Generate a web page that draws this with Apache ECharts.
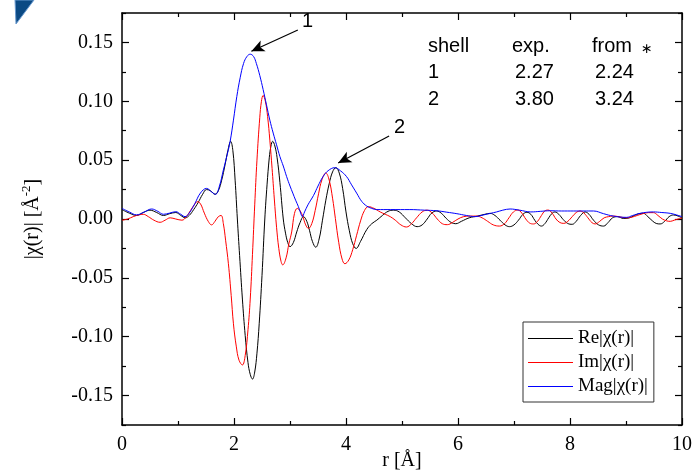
<!DOCTYPE html>
<html>
<head>
<meta charset="utf-8">
<script src="https://cdn.jsdelivr.net/npm/echarts@6/dist/echarts.min.js"></script>
<style>
  html, body { margin: 0; padding: 0; background: #fff; }
  #chart { width: 692px; height: 472px; }
</style>
</head>
<body>
<div id="chart"></div>
<script>
// Re|chi(r)|  (black)
const reR = [0.00, 0.13, 0.26, 0.38, 0.50, 0.62, 0.74, 0.85, 0.96, 1.05, 1.13, 1.20, 1.28, 1.36, 1.44, 1.51, 1.58, 1.66, 1.72, 1.78, 1.84, 1.89, 1.94, 1.98, 2.02, 2.06, 2.10, 2.15, 2.20, 2.25, 2.29, 2.33, 2.37, 2.41, 2.45, 2.50, 2.55, 2.59, 2.63, 2.66, 2.69, 2.73, 2.77, 2.82, 2.88, 2.92, 2.96, 3.00, 3.06, 3.12, 3.18, 3.24, 3.30, 3.35, 3.40, 3.46, 3.52, 3.58, 3.64, 3.70, 3.76, 3.82, 3.88, 3.94, 4.00, 4.06, 4.12, 4.18, 4.26, 4.37, 4.46, 4.55, 4.65, 4.75, 4.85, 4.95, 5.06, 5.17, 5.27, 5.36, 5.45, 5.53, 5.62, 5.70, 5.79, 5.88, 5.96, 6.06, 6.20, 6.35, 6.48, 6.57, 6.66, 6.75, 6.84, 6.92, 7.00, 7.08, 7.16, 7.23, 7.30, 7.37, 7.43, 7.49, 7.55, 7.62, 7.68, 7.73, 7.80, 7.88, 7.96, 8.04, 8.11, 8.19, 8.27, 8.34, 8.42, 8.51, 8.60, 8.68, 8.76, 8.85, 8.95, 9.05, 9.15, 9.23, 9.31, 9.39, 9.47, 9.54, 9.61, 9.69, 9.77, 9.85, 9.93, 10.0];
const reV = [0.008, 0.005, 0.003, 0.0055, 0.0075, 0.0055, 0.003, 0.0045, 0.0055, 0.003, 0.001, 0.003, 0.008, 0.014, 0.021, 0.025, 0.024, 0.021, 0.024, 0.033, 0.046, 0.058, 0.066, 0.058, 0.033, 0.000, -0.031, -0.068, -0.099, -0.122, -0.132, -0.136, -0.130, -0.114, -0.089, -0.048, 0.000, 0.029, 0.052, 0.062, 0.066, 0.062, 0.052, 0.031, 0.000, -0.012, -0.020, -0.0235, -0.020, -0.011, -0.003, 0.002, -0.002, -0.010, -0.019, -0.024, -0.017, -0.001, 0.016, 0.030, 0.040, 0.0436, 0.039, 0.026, 0.006, -0.010, -0.021, -0.025, -0.019, -0.009, -0.004, -0.001, 0.003, 0.0065, 0.0075, 0.006, 0.001, -0.004, -0.0065, -0.005, 0.000, 0.005, 0.0068, 0.005, 0.0005, -0.003, -0.004, -0.002, 0.001, 0.0025, 0.004, 0.0048, 0.003, -0.001, -0.005, -0.0065, -0.005, -0.001, 0.004, 0.0057, 0.004, -0.001, -0.0045, -0.006, -0.004, 0.001, 0.0048, 0.006, 0.004, -0.0005, -0.0038, -0.0045, -0.002, 0.003, 0.006, 0.004, -0.001, -0.005, -0.006, -0.003, 0.001, 0.002, 0.0005, 0.0008, 0.003, 0.0045, 0.0048, 0.002, -0.0015, -0.0038, -0.0042, -0.002, 0.002, 0.0034, 0.0025, 0.0008];

// Im|chi(r)|  (red)
const imR = [0.00, 0.10, 0.20, 0.30, 0.38, 0.47, 0.57, 0.68, 0.77, 0.86, 0.96, 1.07, 1.15, 1.22, 1.29, 1.345, 1.40, 1.47, 1.54, 1.60, 1.66, 1.72, 1.77, 1.81, 1.85, 1.90, 1.95, 1.99, 2.04, 2.09, 2.15, 2.20, 2.25, 2.29, 2.33, 2.37, 2.41, 2.46, 2.49, 2.52, 2.56, 2.60, 2.64, 2.68, 2.72, 2.76, 2.80, 2.84, 2.87, 2.93, 2.98, 3.03, 3.08, 3.13, 3.18, 3.23, 3.28, 3.33, 3.39, 3.45, 3.51, 3.57, 3.64, 3.70, 3.76, 3.81, 3.87, 3.93, 3.98, 4.05, 4.12, 4.19, 4.26, 4.33, 4.40, 4.50, 4.61, 4.70, 4.79, 4.88, 4.98, 5.08, 5.17, 5.26, 5.36, 5.45, 5.54, 5.63, 5.72, 5.81, 5.90, 6.00, 6.10, 6.22, 6.33, 6.43, 6.53, 6.63, 6.74, 6.83, 6.91, 6.99, 7.07, 7.14, 7.21, 7.28, 7.35, 7.42, 7.49, 7.55, 7.61, 7.68, 7.75, 7.82, 7.89, 7.96, 8.04, 8.11, 8.18, 8.25, 8.32, 8.39, 8.45, 8.53, 8.61, 8.69, 8.77, 8.87, 9.00, 9.10, 9.20, 9.30, 9.40, 9.49, 9.57, 9.65, 9.72, 9.79, 9.86, 9.93, 10.0];
const imV = [-0.001, 0.000, 0.002, 0.0035, 0.004, 0.002, -0.001, -0.0028, -0.001, 0.001, 0.000, -0.001, 0.002, 0.007, 0.012, 0.0147, 0.013, 0.005, -0.002, -0.005, -0.002, 0.002, 0.003, -0.004, -0.018, -0.038, -0.065, -0.089, -0.108, -0.120, -0.124, -0.116, -0.094, -0.068, -0.030, 0.012, 0.050, 0.086, 0.100, 0.105, 0.100, 0.087, 0.067, 0.043, 0.017, -0.007, -0.025, -0.036, -0.039, -0.033, -0.021, -0.011, 0.0047, 0.009, 0.007, 0.002, -0.005, -0.008, -0.0038, 0.0073, 0.0214, 0.0333, 0.039, 0.033, 0.0177, 0.0005, -0.0198, -0.034, -0.038, -0.0348, -0.026, -0.0138, -0.0016, 0.0072, 0.0105, 0.009, 0.006, 0.004, 0.002, -0.001, -0.005, -0.0068, -0.004, 0.001, 0.006, 0.0075, 0.005, 0.000, -0.004, -0.0048, -0.003, 0.000, 0.002, 0.0025, 0.0025, 0.001, -0.002, -0.005, -0.006, -0.004, 0.001, 0.006, 0.0076, 0.005, 0.000, -0.0035, -0.0042, -0.002, 0.003, 0.0068, 0.0076, 0.005, 0.000, -0.003, -0.0037, -0.002, 0.002, 0.0055, 0.0068, 0.005, 0.001, -0.003, -0.0042, -0.002, 0.001, 0.002, 0.0025, 0.002, 0.001, 0.0015, 0.003, 0.0045, 0.0054, 0.0054, 0.003, 0.000, -0.0015, -0.002, -0.001, 0.000, 0.0008];

// Mag|chi(r)|  (blue)
const magR = [0.00, 0.13, 0.26, 0.40, 0.53, 0.64, 0.74, 0.85, 0.96, 1.05, 1.125, 1.20, 1.30, 1.40, 1.51, 1.60, 1.67, 1.74, 1.81, 1.87, 1.93, 1.99, 2.05, 2.11, 2.17, 2.23, 2.29, 2.35, 2.40, 2.46, 2.52, 2.58, 2.64, 2.70, 2.76, 2.82, 2.88, 2.94, 3.00, 3.05, 3.10, 3.15, 3.19, 3.22, 3.26, 3.32, 3.42, 3.50, 3.59, 3.68, 3.80, 3.90, 4.01, 4.10, 4.19, 4.28, 4.37, 4.46, 4.55, 4.80, 5.14, 5.40, 5.62, 5.80, 5.98, 6.15, 6.30, 6.45, 6.58, 6.69, 6.80, 6.93, 7.10, 7.30, 7.47, 7.64, 7.85, 8.06, 8.25, 8.42, 8.60, 8.77, 9.01, 9.12, 9.25, 9.37, 9.49, 9.64, 9.79, 9.90, 10.0];
const magV = [0.009, 0.006, 0.0035, 0.006, 0.0085, 0.0065, 0.004, 0.005, 0.0062, 0.004, 0.002, 0.005, 0.013, 0.022, 0.026, 0.023, 0.021, 0.028, 0.0416, 0.053, 0.0657, 0.084, 0.104, 0.120, 0.132, 0.138, 0.140, 0.138, 0.132, 0.122, 0.110, 0.097, 0.084, 0.073, 0.063, 0.053, 0.045, 0.036, 0.028, 0.022, 0.016, 0.0105, 0.005, 0.002, 0.006, 0.012, 0.020, 0.028, 0.036, 0.041, 0.0436, 0.041, 0.036, 0.029, 0.022, 0.015, 0.011, 0.009, 0.008, 0.008, 0.008, 0.0075, 0.007, 0.0058, 0.0045, 0.003, 0.002, 0.0034, 0.0048, 0.006, 0.0075, 0.0085, 0.0075, 0.006, 0.0065, 0.007, 0.0068, 0.0068, 0.0068, 0.0068, 0.0045, 0.0025, 0.0014, 0.003, 0.0048, 0.0057, 0.006, 0.0055, 0.0048, 0.0035, 0.002];

const seriesNames = ['Re|χ(r)|', 'Im|χ(r)|', 'Mag|χ(r)|'];
const seriesColors = ['#000000', '#ff0000', '#0000ff'];

const yMajor = [-0.15, -0.10, -0.05, 0.00, 0.05, 0.10, 0.15];
const yMinor = [-0.175, -0.125, -0.075, -0.025, 0.025, 0.075, 0.125, 0.175];

// peak annotations: [label, arrow start r, start v, tip r, tip v]
const peakArrows = [
  ['1', 3.14, 0.1605, 2.31, 0.1425],
  ['2', 4.77, 0.0705, 3.86, 0.0475]
];

const tableRows = [
  ['shell', 'exp.', 'from'],
  ['1', '2.27', '2.24'],
  ['2', '3.80', '3.24']
];

const pairs = (xs, ys) => xs.map((x, i) => [x, ys[i]]);

const SERIF = 'Liberation Serif';

const chart = echarts.init(document.getElementById('chart'), null, { renderer: 'canvas' });

const axisLine = { show: true, onZero: false, lineStyle: { color: '#000', width: 1.5 } };
const tickLine = { color: '#000', width: 1.2 };

const yAxisBase = {
  type: 'value',
  min: -0.175,
  max: 0.175,
  splitLine: { show: false },
  axisLine: axisLine
};

const xAxisBase = {
  type: 'value', min: 0, max: 10, interval: 2,
  axisLine: axisLine,
  axisTick: { inside: true, length: 7, lineStyle: tickLine },
  minorTick: { show: true, splitNumber: 2, length: 4, lineStyle: tickLine },
  splitLine: { show: false }
};

const tableGraphics = [];
const colX = [428, 512, 592];
const rowY = [47, 73, 100];
tableRows.forEach((row, ri) => {
  row.forEach((txt, ci) => {
    tableGraphics.push({
      type: 'text', left: colX[ci] + (ri > 0 && ci > 0 ? 3 : 0), top: rowY[ri] - 11,
      style: { text: txt, font: '20px "Liberation Sans"', fill: '#000' }
    });
  });
});

const lineSeries = [[reR, reV], [imR, imV], [magR, magV]].map((d, i) => ({
  name: seriesNames[i], type: 'line', smooth: 0.4, showSymbol: false,
  itemStyle: { color: seriesColors[i] },
  lineStyle: { width: 1, color: seriesColors[i] },
  data: pairs(d[0], d[1])
}));

chart.setOption({
  animation: false,
  backgroundColor: '#fff',
  grid: { left: 122, right: 10, top: 13, bottom: 47, containLabel: false, outerBoundsMode: 'none' },
  xAxis: [
    Object.assign({}, xAxisBase, {
      position: 'bottom',
      axisLabel: { margin: 10, fontFamily: SERIF, fontSize: 20, color: '#000' }
    }),
    Object.assign({}, xAxisBase, {
      position: 'top',
      axisLabel: { show: false }
    })
  ],
  yAxis: [
    Object.assign({}, yAxisBase, {
      position: 'left',
      axisTick: { inside: true, length: 7, customValues: yMajor, lineStyle: tickLine },
      axisLabel: {
        customValues: yMajor, margin: 9, fontFamily: SERIF, fontSize: 20, color: '#000',
        formatter: v => v.toFixed(2)
      }
    }),
    Object.assign({}, yAxisBase, {
      position: 'left',
      axisLine: { show: false, onZero: false },
      axisTick: { inside: true, length: 4, customValues: yMinor, lineStyle: tickLine },
      axisLabel: { show: false }
    }),
    Object.assign({}, yAxisBase, {
      position: 'right',
      axisTick: { inside: true, length: 7, customValues: yMajor, lineStyle: tickLine },
      axisLabel: { show: false }
    }),
    Object.assign({}, yAxisBase, {
      position: 'right',
      axisLine: { show: false, onZero: false },
      axisTick: { inside: true, length: 4, customValues: yMinor, lineStyle: tickLine },
      axisLabel: { show: false }
    })
  ],
  legend: {
    orient: 'vertical',
    left: 523, top: 322,
    padding: [7, 6, 6, 5],
    itemGap: 5,
    itemWidth: 45, itemHeight: 1.2,
    icon: 'rect',
    borderColor: '#333', borderWidth: 1, borderRadius: 0,
    textStyle: { fontFamily: SERIF, fontSize: 19, color: '#000' },
    data: seriesNames.map((n, i) => ({
      name: n,
      itemStyle: { color: seriesColors[i] },
      lineStyle: { color: seriesColors[i] }
    }))
  },
  series: lineSeries.concat([{
    name: 'arrows', type: 'line', data: [],
    markLine: {
      silent: true,
      symbol: ['none', 'arrow'],
      symbolSize: [9, 13],
      label: { show: false },
      lineStyle: { color: '#000', width: 1.2, type: 'solid' },
      data: peakArrows.map(a => [{ coord: [a[1], a[2]] }, { coord: [a[3], a[4]] }])
    }
  }]),
  graphic: [
    {
      type: 'polygon',
      shape: { points: [[15, 0], [34, 0], [16, 24]] },
      style: { fill: '#0b4a84', stroke: '#6b9bd0', lineWidth: 1 }
    },
    {
      type: 'text', x: 33, y: 219, rotation: Math.PI / 2,
      style: {
        text: '{a||χ(r)| [Å}{s|-2}{a|]}',
        align: 'center', verticalAlign: 'middle',
        rich: {
          a: { fontFamily: SERIF, fontSize: 20, lineHeight: 26, fill: '#000' },
          s: { fontFamily: SERIF, fontSize: 13, lineHeight: 26, verticalAlign: 'top', fill: '#000' }
        }
      }
    },
    {
      type: 'text', x: 402, y: 461,
      style: { text: 'r [Å]', font: '20px "Liberation Serif"', fill: '#000', align: 'center', verticalAlign: 'middle' }
    },
    { type: 'text', left: 302, top: 11, style: { text: peakArrows[0][0], font: '20px "Liberation Sans"', fill: '#000' } },
    { type: 'text', left: 394, top: 117, style: { text: peakArrows[1][0], font: '20px "Liberation Sans"', fill: '#000' } },
    { type: 'text', left: 641, top: 42, style: { text: '∗', font: '14px "DejaVu Sans"', fill: '#000' } }
  ].concat(tableGraphics)
});
</script>
</body>
</html>
